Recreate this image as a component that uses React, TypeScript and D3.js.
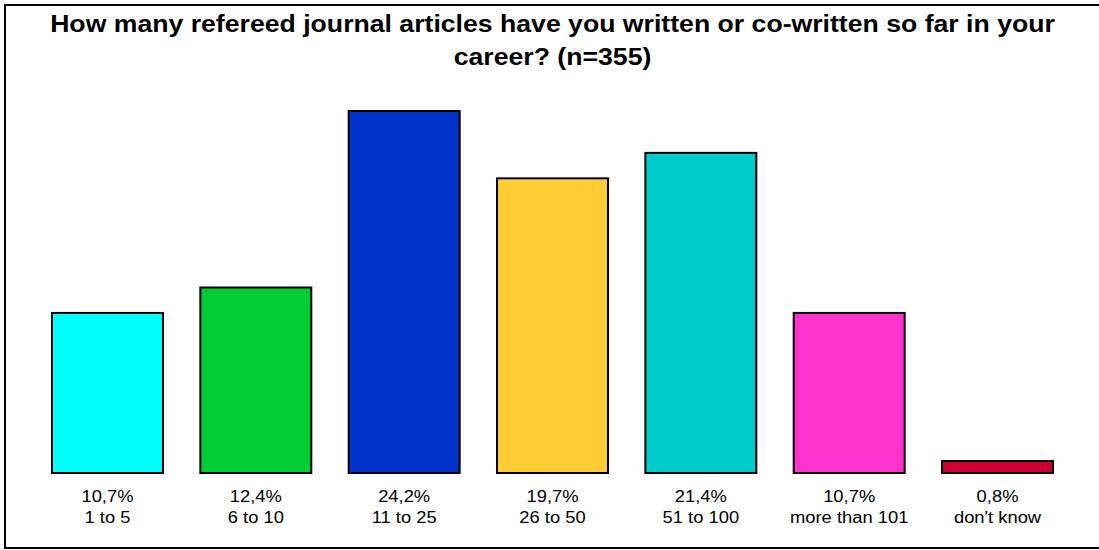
import React from "react";
import * as d3 from "d3";

const categories = ["1 to 5", "6 to 10", "11 to 25", "26 to 50", "51 to 100", "more than 101", "don't know"];
const values = [10.7, 12.4, 24.2, 19.7, 21.4, 10.7, 0.8];
const valueLabels = ["10,7%", "12,4%", "24,2%", "19,7%", "21,4%", "10,7%", "0,8%"];
const colors = ["#00FFFF", "#00CC33", "#0033CC", "#FFCC33", "#00CCCC", "#FF33CC", "#CC0033"];
const titleLines = [
  "How many refereed journal articles have you written or co-written so far in your",
  "career? (n=355)",
];

export default function App() {
  const W = 1099;
  const H = 550;
  const baseY = 473;
  const x = d3.scaleBand<string>().domain(categories).range([33.3, 1071.7]).paddingInner(0.252).paddingOuter(0.126);
  const y = d3.scaleLinear().domain([0, 24.2]).range([baseY, 111]);
  const font = "Arial, 'Liberation Sans', sans-serif";
  return (
    <svg width={W} height={H} style={{ position: "absolute", left: 0, top: 0, background: "#fff" }}>
      <rect x={5} y={5} width={1100} height={543} fill="#fff" stroke="#000" strokeWidth={2} />
      {titleLines.map((t, i) => (
        <text
          key={i}
          transform={`translate(552.5,${32 + i * 33}) scale(1.11,1)`}
          textAnchor="middle"
          fontFamily={font}
          fontWeight="bold"
          fontSize={24}
        >
          {t}
        </text>
      ))}
      {categories.map((c, i) => {
        const bx = x(c)!;
        const bw = x.bandwidth();
        const top = y(values[i]);
        const cx = bx + bw / 2;
        return (
          <g key={c}>
            <rect x={bx} y={top} width={bw} height={baseY - top} fill={colors[i]} stroke="#000" strokeWidth={2} />
            <text transform={`translate(${cx},502) scale(1.08,1)`} textAnchor="middle" fontFamily={font} fontSize={17}>
              {valueLabels[i]}
            </text>
            <text transform={`translate(${cx},523) scale(1.08,1)`} textAnchor="middle" fontFamily={font} fontSize={17}>
              {c}
            </text>
          </g>
        );
      })}
    </svg>
  );
}
